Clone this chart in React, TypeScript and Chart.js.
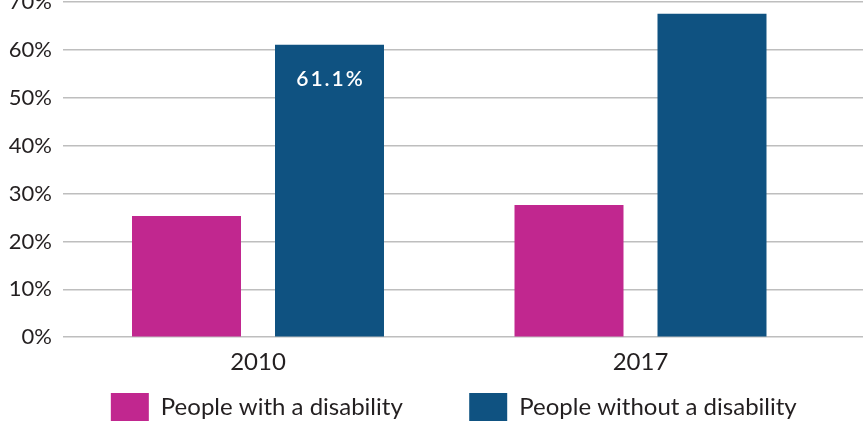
import React, { useEffect, useRef } from 'react';
import { Chart, registerables } from 'chart.js';

Chart.register(...registerables);

const categories = ['2010', '2017'];
const seriesNames = ['People with a disability', 'People without a disability'];
const withDisability = [25.3, 27.6];
const withoutDisability = [61.1, 67.6];
const yTicks = [0, 10, 20, 30, 40, 50, 60, 70];
const labelledBars = [{ dataset: 1, index: 0 }];

const MAGENTA = '#C1278F';
const BLUE = '#0F5281';
const TEXT = '#231F20';
const GRID = '#BEBEBE';
const FONT = 'Lato, "Open Sans", sans-serif';

export default function App() {
  const ref = useRef<HTMLCanvasElement>(null);

  useEffect(() => {
    const labelPlugin = {
      id: 'barLabels',
      afterDatasetsDraw(chart: any) {
        const ctx = chart.ctx;
        ctx.save();
        ctx.fillStyle = '#ffffff';
        ctx.font = `600 21px ${FONT}`;
        ctx.textAlign = 'center';
        ctx.textBaseline = 'middle';
        (ctx as any).letterSpacing = '2px';
        labelledBars.forEach(({ dataset, index }) => {
          const el = chart.getDatasetMeta(dataset).data[index];
          const v = chart.data.datasets[dataset].data[index].y;
          ctx.fillText(v.toFixed(1) + '%', el.x + 1, el.y + 34);
        });
        ctx.restore();
      },
    };

    const yFont = { family: FONT, size: 22 };
    const xFont = { family: FONT, size: 24 };

    const chart = new Chart(ref.current as HTMLCanvasElement, {
      type: 'bar',
      data: {
        datasets: [
          {
            label: seriesNames[0],
            data: withDisability.map((y, i) => ({ x: i, y })),
            backgroundColor: MAGENTA,
            categoryPercentage: 0.7477,
            barPercentage: 0.7622,
          },
          {
            label: seriesNames[1],
            data: withoutDisability.map((y, i) => ({ x: i, y })),
            backgroundColor: BLUE,
            categoryPercentage: 0.7477,
            barPercentage: 0.7622,
          },
        ],
      } as any,
      options: {
        animation: false,
        responsive: true,
        maintainAspectRatio: false,
        layout: { padding: { top: 16, right: 4, left: 0, bottom: 13 } },
        scales: {
          x: {
            type: 'linear',
            offset: false,
            min: -0.5098,
            max: 1.5817,
            grid: { display: false, offset: false, drawTicks: false },
            border: { display: false },
            afterBuildTicks: (s: any) => {
              s.ticks = categories.map((_, i) => ({ value: i }));
            },
            ticks: {
              callback: (v: any) => categories[v] ?? '',
              font: xFont,
              color: TEXT,
              padding: 11,
              autoSkip: false,
              maxRotation: 0,
            },
          },
          y: {
            min: 0,
            max: 70,
            afterBuildTicks: (s: any) => {
              s.ticks = yTicks.map((v) => ({ value: v }));
            },
            afterFit: (s: any) => {
              s.width = 63;
            },
            grid: { color: GRID, lineWidth: 1.5, drawTicks: false },
            border: { display: false },
            ticks: {
              callback: (v: any) => v + '%',
              padding: 11,
              font: yFont,
              color: TEXT,
            },
          },
        } as any,
        plugins: {
          legend: {
            position: 'bottom',
            fullSize: false,
            labels: {
              boxWidth: 38,
              boxHeight: 28,
              padding: 5,
              font: xFont,
              color: TEXT,
              generateLabels: (c: any) =>
                Chart.defaults.plugins.legend.labels.generateLabels(c).map((item: any, i: number) => ({
                  ...item,
                  text: i === 0 ? item.text + '          ' : item.text + '   ',
                })),
            },
          },
          tooltip: { enabled: false },
        },
      } as any,
      plugins: [labelPlugin],
    });

    return () => chart.destroy();
  }, []);

  return (
    <div style={{ position: 'absolute', left: 0, top: -22, width: 867, height: 466 }}>
      <canvas ref={ref} />
    </div>
  );
}
